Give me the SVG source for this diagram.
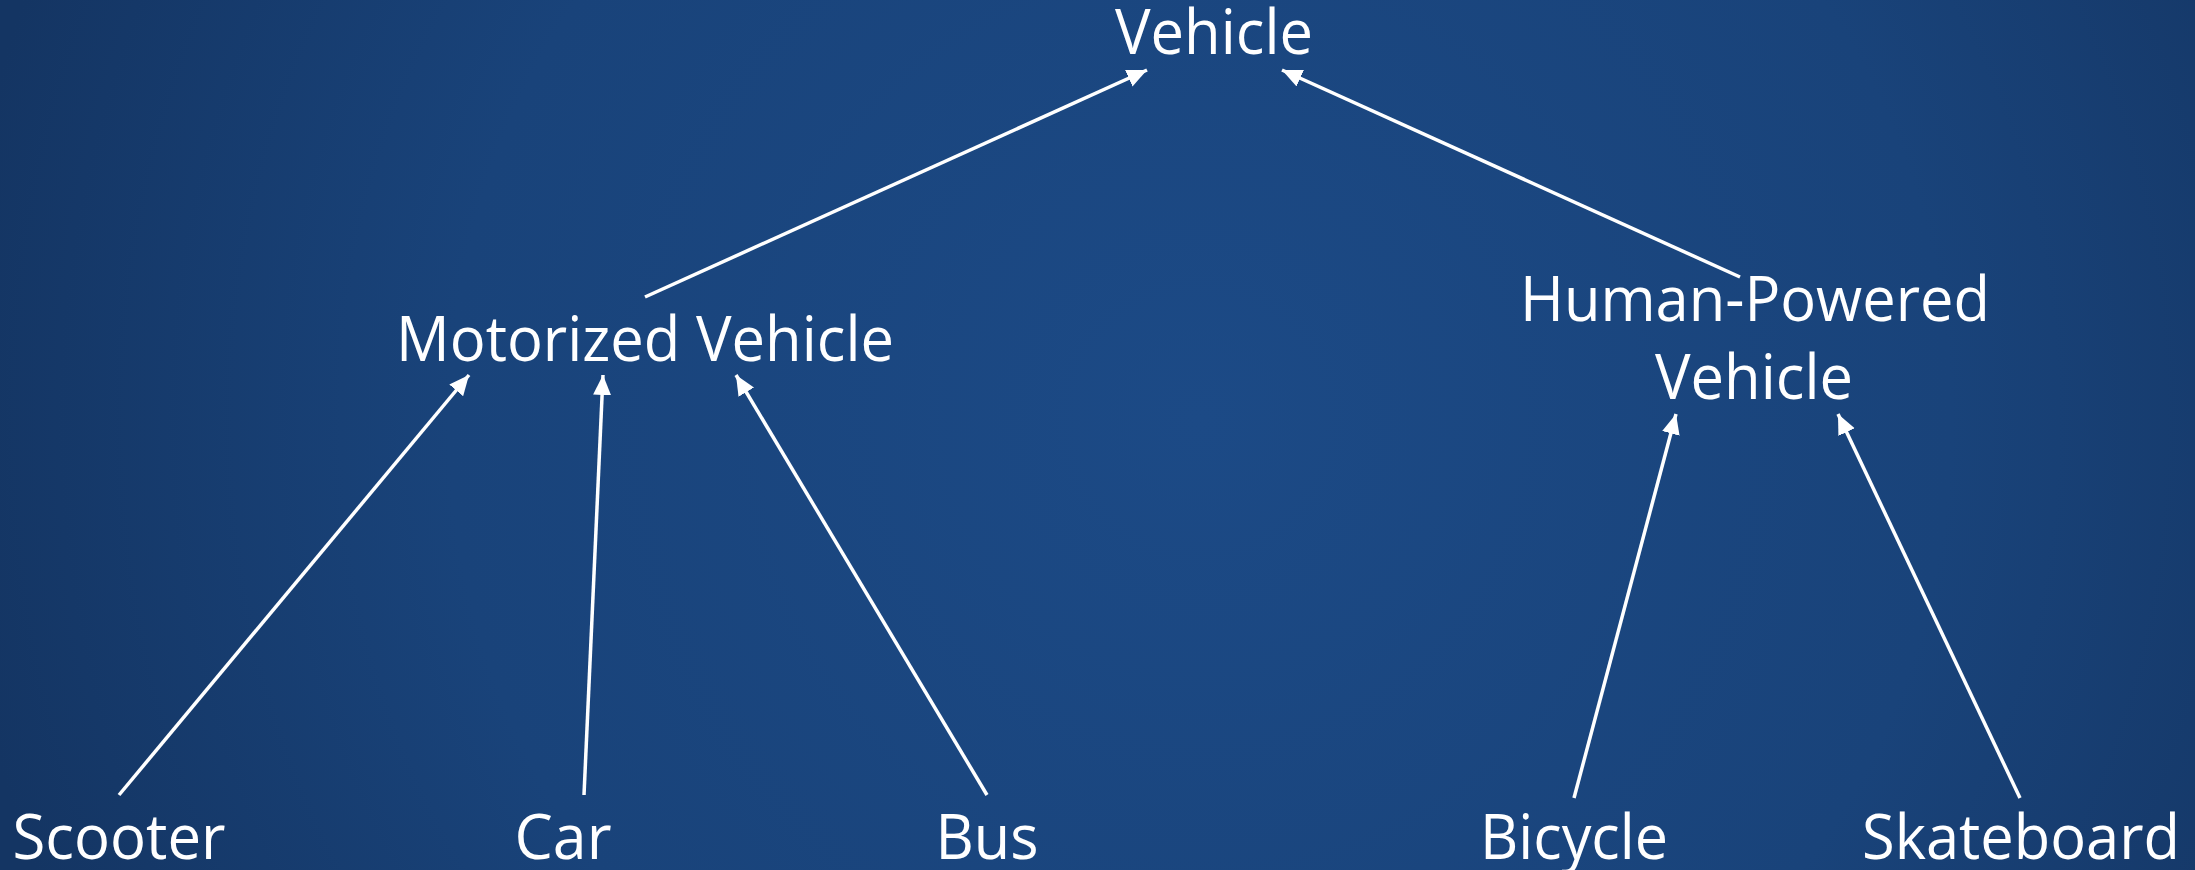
<svg xmlns="http://www.w3.org/2000/svg" width="2195" height="870" viewBox="0 0 2195 870">
  <defs>
    <radialGradient id="bg" cx="1200" cy="420" r="1250" gradientUnits="userSpaceOnUse">
      <stop offset="0" stop-color="#1c4a86"/>
      <stop offset="0.6" stop-color="#19437a"/>
      <stop offset="1" stop-color="#143563"/>
    </radialGradient>
    <marker id="arrow" markerUnits="userSpaceOnUse" markerWidth="24" markerHeight="20" refX="20" refY="9" orient="auto">
      <path d="M0,0 L20,9 L0,18 z" fill="#ffffff"/>
    </marker>
    <style>
      .label { font-family: "Open Sans", "Noto Sans", "Liberation Sans", sans-serif; font-size: 62px; fill: #ffffff; text-anchor: middle; }
      .edge { stroke: #ffffff; stroke-width: 3.5; fill: none; marker-end: url(#arrow); }
    </style>
  </defs>

  <rect x="0" y="0" width="2195" height="870" fill="url(#bg)"/>

  <!-- connectors: child to parent -->
  <g id="connectors">
    <line class="edge" x1="645" y1="297" x2="1147" y2="70"/>
    <line class="edge" x1="1740" y1="277" x2="1282" y2="70"/>
    <line class="edge" x1="119" y1="795" x2="469" y2="375"/>
    <line class="edge" x1="584" y1="795" x2="603" y2="375"/>
    <line class="edge" x1="987" y1="795" x2="736" y2="375"/>
    <line class="edge" x1="1574" y1="798" x2="1676" y2="414"/>
    <line class="edge" x1="2020" y1="798" x2="1838" y2="414"/>
  </g>

  <g id="vehicle">
    <text class="label" x="1214" y="54" textLength="198" lengthAdjust="spacingAndGlyphs">Vehicle</text>
  </g>
  <g id="motorized-vehicle">
    <text class="label" x="645" y="361" textLength="498" lengthAdjust="spacingAndGlyphs">Motorized Vehicle</text>
  </g>
  <g id="human-powered-vehicle">
    <text class="label" x="1755" y="321" textLength="470" lengthAdjust="spacingAndGlyphs">Human-Powered</text>
    <text class="label" x="1754" y="399" textLength="198" lengthAdjust="spacingAndGlyphs">Vehicle</text>
  </g>
  <g id="scooter">
    <text class="label" x="119" y="859" textLength="213" lengthAdjust="spacingAndGlyphs">Scooter</text>
  </g>
  <g id="car">
    <text class="label" x="563" y="859" textLength="97" lengthAdjust="spacingAndGlyphs">Car</text>
  </g>
  <g id="bus">
    <text class="label" x="987" y="859" textLength="103" lengthAdjust="spacingAndGlyphs">Bus</text>
  </g>
  <g id="bicycle">
    <text class="label" x="1574" y="859" textLength="188" lengthAdjust="spacingAndGlyphs">Bicycle</text>
  </g>
  <g id="skateboard">
    <text class="label" x="2021" y="859" textLength="318" lengthAdjust="spacingAndGlyphs">Skateboard</text>
  </g>
</svg>
